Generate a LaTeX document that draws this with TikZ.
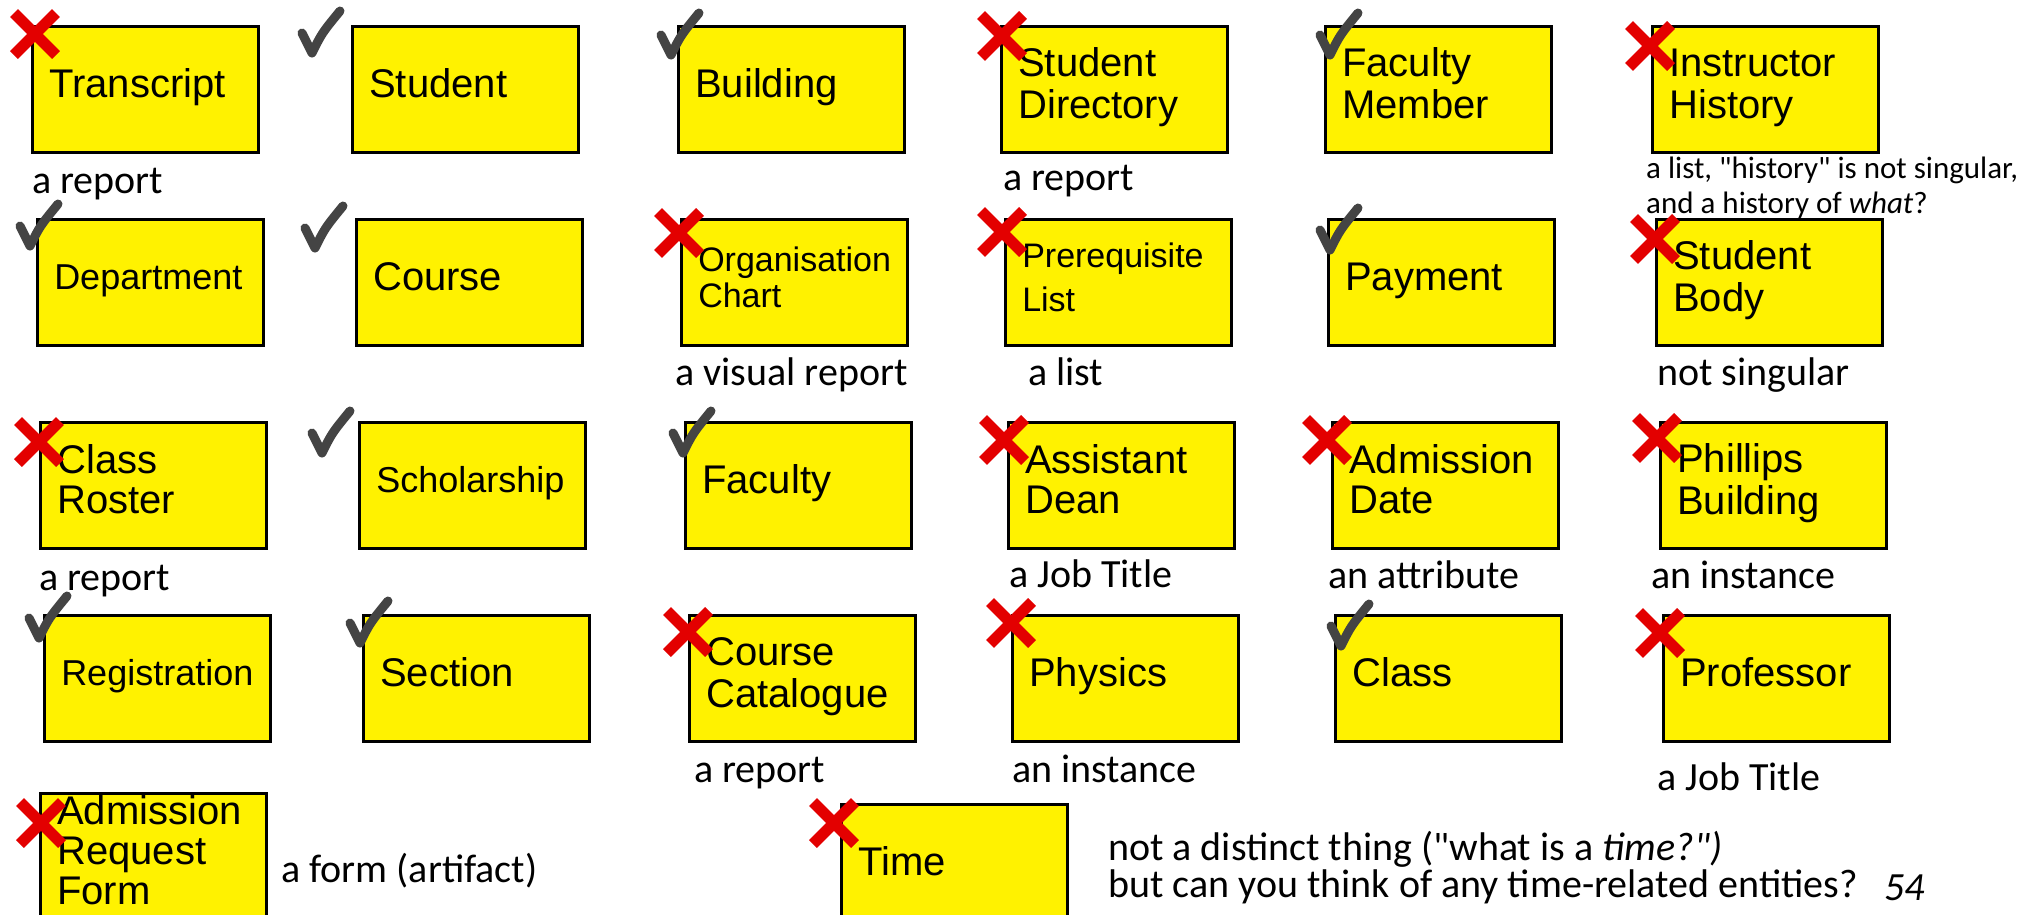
\documentclass[tikz,border=0pt]{standalone}
\usepackage{fontspec}
\setmainfont{Carlito}
\newfontfamily\boxfont{Liberation Sans}
\usepackage{xcolor}
\definecolor{checkgray}{HTML}{444444}
\definecolor{crossred}{HTML}{E30000}

\tikzset{
  entity/.style={draw=black, line width=2.5bp, fill=yellow, anchor=north west,
    minimum height=126bp, text width=192bp, inner xsep=17bp, inner ysep=0pt, align=left,
    font=\boxfont\fontsize{40bp}{40bp}\selectfont,
    execute at begin node=\strut, execute at end node=\strut},
  smallentity/.style={entity, font=\boxfont\fontsize{36bp}{36bp}\selectfont},
  tinyentity/.style={entity, font=\boxfont\fontsize{34bp}{34bp}\selectfont},
  note/.style={anchor=base west, inner sep=0pt, font=\fontsize{40bp}{40bp}\selectfont},
  okmark/.pic={\draw[line width=9bp, checkgray, line cap=round, line join=round] (-10,-20) .. controls (-5,-10) .. (0,0) .. controls (10,-20) .. (28,-42);},
  nomark/.pic={\draw[line width=11bp, crossred] (-21,-21) -- (21,21) (-21,21) -- (21,-21);}
}

\begin{document}
\begin{tikzpicture}[x=1bp, y=-1bp]
\useasboundingbox (0,0) rectangle (2039,915);
\clip (0,0) rectangle (2039,915);

\node[entity] (transcript) at (31,25) {Transcript};
\node[entity] (student) at (351,25) {Student};
\node[entity] (building) at (677,25) {Building};
\node[entity] (studentdir) at (1000,25) {Student\\Directory};
\node[entity] (facmember) at (1324,25) {Faculty\\Member};
\node[entity] (instrhist) at (1651,25) {Instructor\\History};

\node[smallentity] (department) at (36,218) {Department};
\node[entity] (course) at (355,218) {Course};
\node[tinyentity] (orgchart) at (680,218) {Organisation\\Chart};
\node[tinyentity] (prereq) at (1004,218) {Prerequisite\\[9bp]List};
\node[entity] (payment) at (1327,218) {Payment};
\node[entity] (studentbody) at (1655,218) {Student\\Body};

\node[entity] (classroster) at (39,421) {Class\\Roster};
\node[smallentity] (scholarship) at (358,421) {Scholarship};
\node[entity] (faculty) at (684,421) {Faculty};
\node[entity] (asstdean) at (1007,421) {Assistant\\Dean};
\node[entity] (admdate) at (1331,421) {Admission\\Date};
\node[entity] (phillips) at (1659,421) {Phillips\\Building};

\node[smallentity] (registration) at (43,614) {Registration};
\node[entity] (section) at (362,614) {Section};
\node[entity] (coursecat) at (688,614) {Course\\Catalogue};
\node[entity] (physics) at (1011,614) {Physics};
\node[entity] (class) at (1334,614) {Class};
\node[entity] (professor) at (1662,614) {Professor};

\node[entity] (admform) at (39,792) {Admission\\Request\\Form};
\node[entity] (time) at (840,803) {Time};

\pic at (312,53) {okmark};
\pic at (671,55) {okmark};
\pic at (1330,55) {okmark};
\pic at (30,246) {okmark};
\pic at (315,248) {okmark};
\pic at (1330,250) {okmark};
\pic at (322,453) {okmark};
\pic at (683,453) {okmark};
\pic at (39,638) {okmark};
\pic at (360,643) {okmark};
\pic at (1341,646) {okmark};

\pic at (35,34) {nomark};
\pic at (1002,36) {nomark};
\pic at (1650,46) {nomark};
\pic at (679,233) {nomark};
\pic at (1002,232) {nomark};
\pic at (1655,239) {nomark};
\pic at (39,442) {nomark};
\pic at (1004,440) {nomark};
\pic at (1327,440) {nomark};
\pic at (1657,438) {nomark};
\pic at (688,632) {nomark};
\pic at (1011,623) {nomark};
\pic at (1660,633) {nomark};
\pic at (41,823) {nomark};
\pic at (834,823) {nomark};

\node[note] (n-transcript) at (32,193) {a report};
\node[note] (n-studentdir) at (1003,190) {a report};
\node[note, font=\fontsize{31bp}{35bp}\selectfont] (n-instrhist-a) at (1646,178) {a list, \textquotedbl history\textquotedbl{} is not singular,};
\node[note, font=\fontsize{31bp}{35bp}\selectfont] (n-instrhist-b) at (1646,213) {and a history of \textit{what}?};
\node[note] (n-orgchart) at (675,385) {a visual report};
\node[note] (n-prereq) at (1028,385) {a list};
\node[note] (n-studentbody) at (1657,385) {not singular};
\node[note] (n-classroster) at (39,590) {a report};
\node[note] (n-asstdean) at (1009,587) {a Job Title};
\node[note] (n-admdate) at (1328,588) {an attribute};
\node[note] (n-phillips) at (1651,588) {an instance};
\node[note] (n-coursecat) at (694,782) {a report};
\node[note] (n-physics) at (1012,782) {an instance};
\node[note] (n-professor) at (1657,790) {a Job Title};
\node[note] (n-admform) at (281,882) {a form (artifact)};
\node[note] (n-time-a) at (1108,860) {not a distinct thing (\textquotedbl what is a \textit{time?\textquotedbl)}};
\node[note] (n-time-b) at (1108,897) {but can you think of any time-related entities?};
\node[note] (pagenum) at (1884,900) {\textit{54}};
\end{tikzpicture}
\end{document}
